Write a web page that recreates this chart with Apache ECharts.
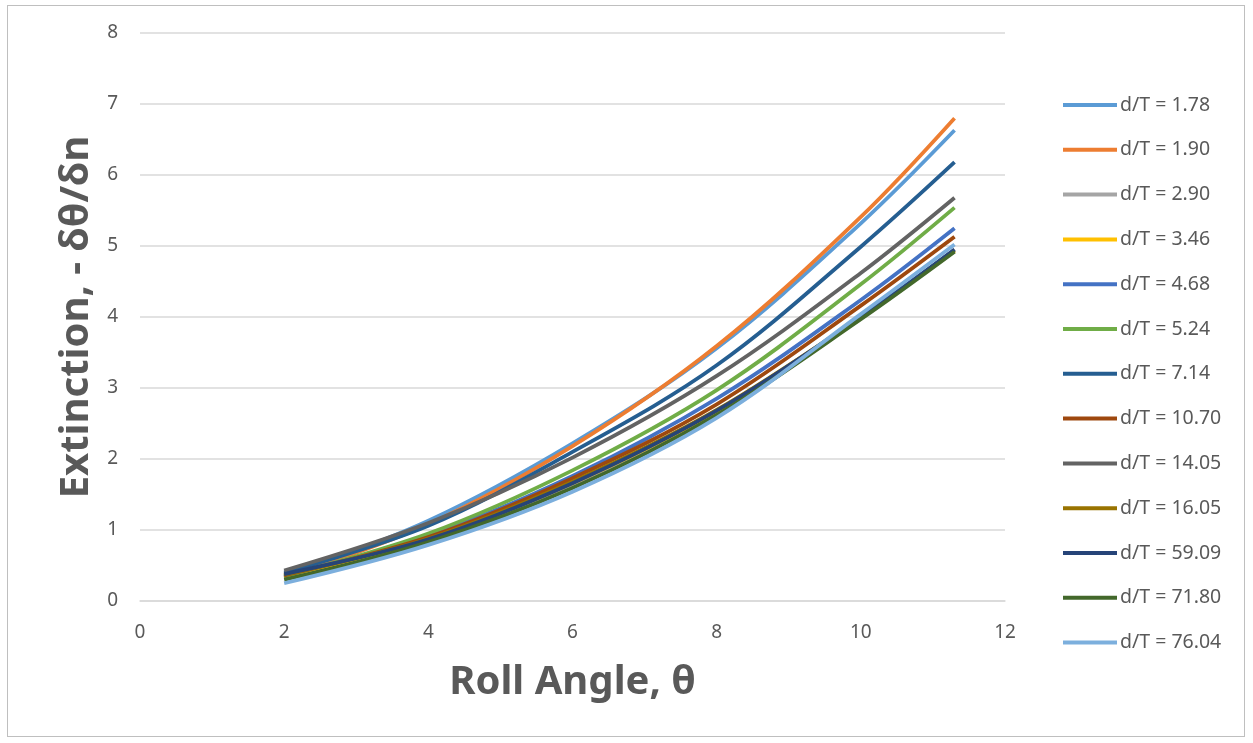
<!DOCTYPE html>
<html>
<head>
<meta charset="utf-8">
<script src="https://cdn.jsdelivr.net/npm/echarts@6/dist/echarts.min.js"></script>
<style>
html,body{margin:0;padding:0;background:#fff;}
#frame{position:absolute;left:7px;top:5px;width:1238px;height:732px;border:1.5px solid #bfbfbf;box-sizing:border-box;}
#chart{position:absolute;left:0;top:0;width:1253px;height:743px;}
</style>
</head>
<body>
<div id="frame"></div>
<div id="chart"></div>
<script>
const xValues = [2, 4, 6, 8, 10, 11.3];
const seriesNames = ['d/T = 1.78','d/T = 1.90','d/T = 2.90','d/T = 3.46','d/T = 4.68','d/T = 5.24','d/T = 7.14','d/T = 10.70','d/T = 14.05','d/T = 16.05','d/T = 59.09','d/T = 71.80','d/T = 76.04'];
const s178  = [0.34, 1.13, 2.22, 3.56, 5.32, 6.63];
const s190  = [0.33, 1.08, 2.18, 3.59, 5.41, 6.80];
const s290  = [0.33, 0.86, 1.62, 2.64, 3.98, 4.95];
const s346  = [0.35, 0.88, 1.66, 2.67, 3.99, 4.93];
const s468  = [0.36, 0.92, 1.76, 2.85, 4.24, 5.25];
const s524  = [0.35, 0.95, 1.84, 2.97, 4.46, 5.54];
const s714  = [0.40, 1.06, 2.10, 3.32, 4.99, 6.18];
const s1070 = [0.36, 0.90, 1.73, 2.77, 4.16, 5.13];
const s1405 = [0.43, 1.10, 2.02, 3.17, 4.62, 5.68];
const s1605 = [0.37, 0.88, 1.68, 2.69, 4.00, 4.94];
const s5909 = [0.38, 0.87, 1.66, 2.68, 4.00, 4.95];
const s7180 = [0.30, 0.83, 1.59, 2.62, 3.97, 4.92];
const s7604 = [0.25, 0.79, 1.54, 2.58, 4.04, 5.02];
const allSeries = [s178, s190, s290, s346, s468, s524, s714, s1070, s1405, s1605, s5909, s7180, s7604];
const colors = ['#5B9BD5','#ED7D31','#A5A5A5','#FFC000','#4472C4','#70AD47','#255E91','#9E480E','#636363','#997300','#264478','#43682B','#7CAFDD'];
const xTicks = [0, 2, 4, 6, 8, 10, 12];
const yTicks = [0, 1, 2, 3, 4, 5, 6, 7, 8];

const font = '"Noto Sans", "DejaVu Sans", sans-serif';
const chart = echarts.init(document.getElementById('chart'), null, {renderer: 'canvas'});
chart.setOption({
  animation: false,
  color: colors,
  grid: {left: 140, right: 248, top: 33, bottom: 142, containLabel: false},
  legend: {
    orient: 'vertical', left: 1058, top: 89,
    icon: 'rect',
    itemWidth: 54, itemHeight: 4, itemGap: 22.8,
    textStyle: {fontFamily: font, fontSize: 19.5, color: '#595959', lineHeight: 22, padding: [0,0,0,-2]},
    data: seriesNames
  },
  xAxis: {
    type: 'value', min: xTicks[0], max: xTicks[xTicks.length-1], interval: 2,
    name: 'Roll Angle, θ', nameLocation: 'middle', nameGap: 62,
    nameTextStyle: {fontFamily: font, fontSize: 40, fontWeight: 'bold', color: '#595959'},
    axisLine: {show: true, lineStyle: {color: '#d9d9d9', width: 1.5}},
    axisTick: {show: false},
    splitLine: {show: false},
    axisLabel: {fontFamily: font, fontSize: 19, color: '#595959', margin: 22}
  },
  yAxis: {
    type: 'value', min: yTicks[0], max: yTicks[yTicks.length-1], interval: 1,
    name: 'Extinction, - δθ/δn', nameLocation: 'middle', nameGap: 40,
    nameTextStyle: {fontFamily: font, fontSize: 40, fontWeight: 'bold', color: '#595959'},
    axisLine: {show: false},
    axisTick: {show: false},
    splitLine: {show: true, lineStyle: {color: '#d9d9d9', width: 1.5}},
    axisLabel: {fontFamily: font, fontSize: 19, color: '#595959', margin: 22}
  },
  series: allSeries.map((arr, i) => ({
    name: seriesNames[i],
    type: 'line',
    smooth: 0.35,
    symbol: 'none',
    lineStyle: {width: 3.8, color: colors[i]},
    itemStyle: {color: colors[i]},
    data: xValues.map((x, j) => [x, arr[j]])
  }))
});
</script>
</body>
</html>
